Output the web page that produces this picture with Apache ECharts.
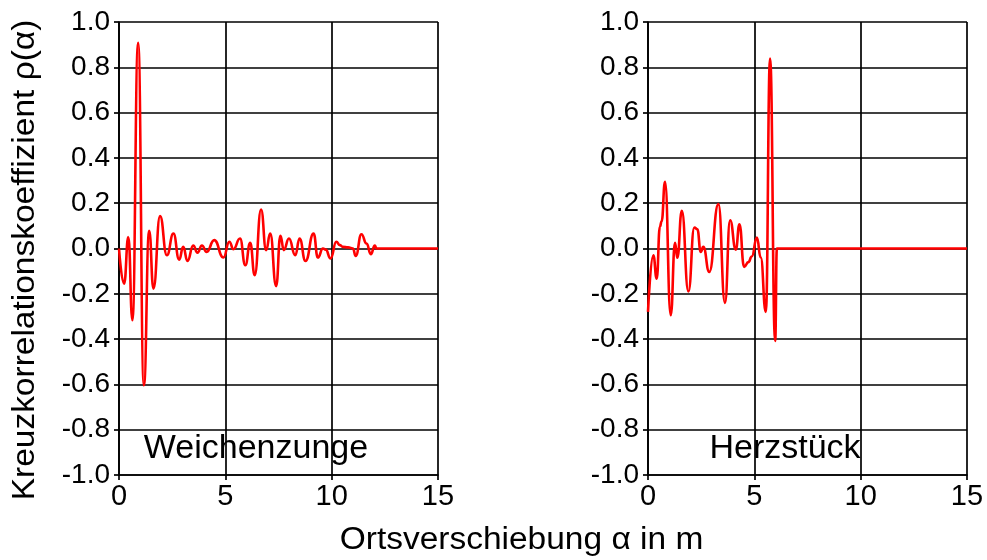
<!DOCTYPE html>
<html>
<head>
<meta charset="utf-8">
<script src="https://cdn.jsdelivr.net/npm/echarts@6/dist/echarts.min.js"></script>
<style>
  html, body { margin: 0; padding: 0; background: #fff; }
  #chart { width: 987px; height: 560px; }
</style>
</head>
<body>
<div id="chart"></div>
<script>
// Cross-correlation coefficient over shift distance, two track components.
// Points are the turning points of each oscillation.
const weicheX = [0, 0.24, 0.44, 0.63, 0.9, 1.17, 1.42, 1.62, 1.93, 2.25, 2.56, 2.83, 3.02, 3.22, 3.49, 3.69, 3.9, 4.12, 4.48, 4.91, 5.19, 5.38, 5.69, 5.94, 6.17, 6.38, 6.68, 6.92, 7.11, 7.39, 7.59, 7.75, 7.99, 8.29, 8.49, 8.77, 9.15, 9.35, 9.59, 9.72, 9.95, 10.22, 10.38, 10.53, 10.77, 11.0, 11.13, 11.4, 11.64, 11.84, 12.03, 12.11, 12.5, 15];
const weicheY = [0, -0.155, 0.05, -0.317, 0.908, -0.604, 0.078, -0.177, 0.143, -0.03, 0.066, -0.049, 0.007, -0.055, 0.013, -0.018, 0.013, -0.015, 0.037, -0.04, 0.03, -0.003, 0.044, -0.074, 0.025, -0.118, 0.172, -0.007, 0.066, -0.166, 0.056, -0.007, 0.044, -0.03, 0.044, -0.055, 0.066, -0.04, 0.0, -0.005, -0.044, 0.03, 0.015, 0.007, 0.005, 0.0, -0.033, 0.063, 0.022, -0.025, 0.013, 0, 0, 0];

const herzX = [0, 0.25, 0.41, 0.56, 0.64, 0.8, 1.07, 1.27, 1.38, 1.59, 1.9, 2.18, 2.32, 2.48, 2.6, 2.88, 3.31, 3.62, 3.86, 4.13, 4.3, 4.52, 4.72, 4.88, 5.12, 5.3, 5.54, 5.74, 5.98, 6.06, 6.5, 15];
const herzY = [-0.28, -0.03, -0.133, 0.096, 0.12, 0.294, -0.295, 0.025, -0.041, 0.166, -0.19, 0.093, 0.085, -0.015, 0.007, -0.103, 0.196, -0.24, 0.125, -0.005, 0.107, -0.081, -0.06, -0.035, 0.048, -0.04, -0.28, 0.839, -0.408, 0, 0, 0];

const panelLabels = ['Weichenzunge', 'Herzstück'];
const xTitle = 'Ortsverschiebung \u03b1 in m';
const yTitle = 'Kreuzkorrelationskoeffizient \u03c1(\u03b1)';

const FONT = '"Liberation Sans", Arial, Helvetica, sans-serif';
const INK = '#000';

function pairs(xs, ys) { return xs.map((x, i) => [x, ys[i]]); }

function xAxisFor(gridIndex) {
  return {
    type: 'value', gridIndex, min: 0, max: 15, interval: 5,
    axisLine: { show: true, onZero: false, lineStyle: { color: INK, width: 1.7 } },
    axisTick: { show: true, inside: false, length: 5, lineStyle: { color: INK, width: 1.7 } },
    axisLabel: { color: INK, fontSize: 29, fontFamily: FONT, margin: 7 },
    splitLine: { show: true, lineStyle: { color: INK, width: 1.7 } }
  };
}
function yAxisFor(gridIndex) {
  return {
    type: 'value', gridIndex, min: -1, max: 1, interval: 0.2,
    axisLine: { show: true, onZero: false, lineStyle: { color: INK, width: 1.7 } },
    axisTick: { show: true, inside: false, length: 5, lineStyle: { color: INK, width: 1.7 } },
    axisLabel: { color: INK, fontSize: 28, fontFamily: FONT, margin: 9,
      formatter: v => v.toFixed(1) },
    splitLine: { show: true, lineStyle: { color: INK, width: 1.7 } }
  };
}
function lineSeries(idx, data) {
  return {
    type: 'line', xAxisIndex: idx, yAxisIndex: idx, data,
    showSymbol: false, smooth: 0.5, smoothMonotone: 'x',
    lineStyle: { color: '#ff0000', width: 2.6 }, clip: true
  };
}

const chart = echarts.init(document.getElementById('chart'), null, { renderer: 'canvas' });
chart.setOption({
  animation: false,
  backgroundColor: '#fff',
  grid: [
    { left: 119, top: 22, width: 319, height: 453 },
    { left: 648, top: 22, width: 319, height: 453 }
  ],
  xAxis: [xAxisFor(0), xAxisFor(1)],
  yAxis: [yAxisFor(0), yAxisFor(1)],
  series: [
    lineSeries(0, pairs(weicheX, weicheY)),
    lineSeries(1, pairs(herzX, herzY))
  ],
  graphic: [
    { type: 'text', x: 256, y: 449, z: 10,
      style: { text: panelLabels[0], fill: INK, font: '34px ' + FONT, align: 'center', verticalAlign: 'middle', textAlign: 'center', textVerticalAlign: 'middle' } },
    { type: 'text', x: 785, y: 449, z: 10,
      style: { text: panelLabels[1], fill: INK, font: '34px ' + FONT, align: 'center', verticalAlign: 'middle', textAlign: 'center', textVerticalAlign: 'middle' } },
    { type: 'text', x: 521.5, y: 540, scaleX: 1.08, z: 10,
      style: { text: xTitle, fill: INK, font: '31px ' + FONT, align: 'center', verticalAlign: 'middle', textAlign: 'center', textVerticalAlign: 'middle' } },
    { type: 'text', x: 25, y: 260, rotation: Math.PI / 2, scaleX: 1.08, z: 10,
      style: { text: yTitle, fill: INK, font: '31px ' + FONT, align: 'center', verticalAlign: 'middle', textAlign: 'center', textVerticalAlign: 'middle' } }
  ]
});
</script>
</body>
</html>
